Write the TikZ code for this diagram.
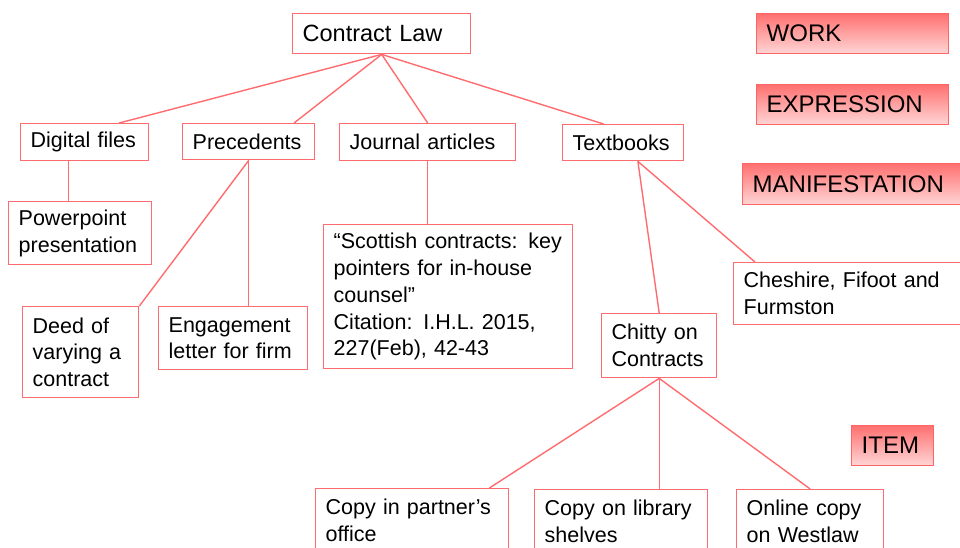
\documentclass[tikz,border=0pt]{standalone}
\usepackage{fontspec}
\setmainfont{Liberation Sans}
\usetikzlibrary{calc}
\definecolor{linkred}{RGB}{255,108,112}
\definecolor{frbrred}{RGB}{255,112,112}
\definecolor{frbrpink}{RGB}{255,214,214}
\tikzset{
  card/.style={draw=linkred, line width=1.4pt, fill=white, anchor=north west,
    align=left, inner xsep=10pt, inner ysep=0pt,
    font=\fontsize{21.5}{26.8}\selectfont},
  frbr/.style={draw=frbrred!90!red, line width=1.4pt, top color=frbrred,
    bottom color=frbrpink, anchor=north west, align=left, inner xsep=10pt,
    inner ysep=0pt, font=\fontsize{24}{28}\selectfont},
  link/.style={draw=linkred, line width=1.4pt},
}
\begin{document}
\begin{tikzpicture}[x=1pt, y=-1pt]
    \clip (0, 0) rectangle (960, 547);
    % Legend
    \node[frbr, text width=172pt, minimum height=40pt] (work)  at (756, 13)  {WORK};
    \node[frbr, text width=172pt, minimum height=40pt] (expr)  at (756, 84)  {EXPRESSION};
    \node[frbr, text width=212pt, minimum height=41pt] (manif) at (742, 163) {MANIFESTATION};
    \node[frbr, text width=62pt,  minimum height=40pt] (item)  at (851, 425) {ITEM};
    % Nodes
    \node[card, text width=158pt, minimum height=40pt, font=\fontsize{23.5}{28}\selectfont] (law) at (292, 13) {Contract Law};
    \node[card, text width=108pt, minimum height=37pt] (digital)  at (20, 123)  {Digital files};
    \node[card, text width=112pt, minimum height=36pt] (prec)     at (182, 123) {Precedents};
    \node[card, text width=156pt, minimum height=37pt] (journal)  at (339, 123) {Journal articles};
    \node[card, text width=101pt, minimum height=36pt] (text)     at (562, 124) {Textbooks};
    \node[card, text width=123pt, minimum height=63pt] (ppt)      at (8, 201)   {Powerpoint\\presentation};
    \node[card, text width=96pt,  minimum height=91pt] (deed)     at (22, 306)  {Deed of\\varying a\\contract};
    \node[card, text width=129pt, minimum height=63pt] (engage)   at (158, 306) {Engagement\\letter for firm};
    \node[card, text width=229pt, minimum height=144pt] (scot)    at (323, 224) {“Scottish contracts: key\\pointers for in-house\\counsel”\\Citation: I.H.L. 2015,\\227(Feb), 42-43};
    \node[card, text width=220pt, minimum height=62pt] (cheshire) at (733, 262) {Cheshire, Fifoot and\\Furmston};
    \node[card, text width=95pt,  minimum height=64pt] (chitty)   at (601, 313) {Chitty on\\Contracts};
    \node[card, text width=173pt, minimum height=64pt] (partner)  at (315, 488) {Copy in partner’s\\office};
    \node[card, text width=153pt, minimum height=64pt] (library)  at (534, 489) {Copy on library\\shelves};
    \node[card, text width=127pt, minimum height=64pt] (online)   at (736, 489) {Online copy\\on Westlaw};
    % Lines connecting the nodes
    \draw[link] (law.south) -- ($(digital.north west)!0.766!(digital.north east)$);
    \draw[link] (law.south) -- ($(prec.north west)!0.84!(prec.north east)$);
    \draw[link] (law.south) -- (journal.north);
    \draw[link] (law.south) -- ($(text.north west)!0.34!(text.north east)$);
    \draw[link] ($(digital.south west)!0.375!(digital.south east)$) coordinate (d1) -- (d1 |- ppt.north);
    \draw[link] (prec.south) -- (deed.north east);
    \draw[link] (prec.south) -- (prec.south |- engage.north);
    \draw[link] (journal.south) -- (journal.south |- scot.north);
    \draw[link] ($(text.south west)!0.62!(text.south east)$) coordinate (t1) -- (chitty.north);
    \draw[link] (t1) -- ([xshift=22pt]cheshire.north west);
    \draw[link] (chitty.south) -- ([xshift=-20pt]partner.north east);
    \draw[link] (chitty.south) -- (chitty.south |- library.north);
    \draw[link] (chitty.south) -- (online.north);
\end{tikzpicture}
\end{document}
